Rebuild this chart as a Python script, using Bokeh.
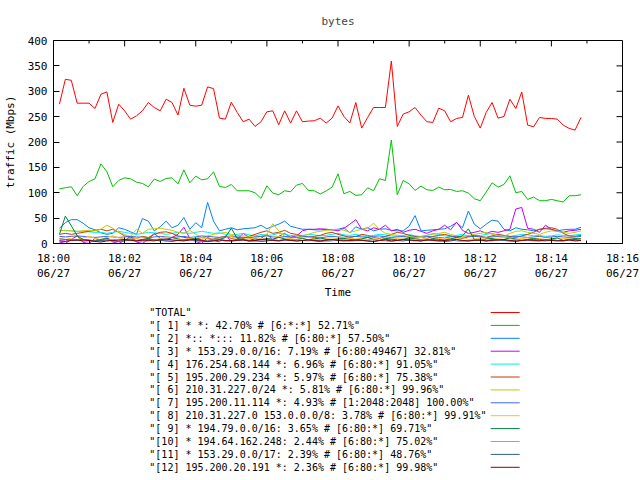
import numpy as np
from bokeh.plotting import figure
from bokeh.models import Range1d, FixedTicker
from bokeh.layouts import column
from bokeh.embed import file_html
from bokeh.resources import INLINE
from bokeh.core.properties import value

# ---------------- data ----------------
sample_seconds = list(range(10, 900, 10))          # one sample every 10 s after 18:00
x_tick_minutes = [0, 2, 4, 6, 8, 10, 12, 14, 16]
x_tick_labels = ["18:00\n06/27", "18:02\n06/27", "18:04\n06/27", "18:06\n06/27",
                 "18:08\n06/27", "18:10\n06/27", "18:12\n06/27", "18:14\n06/27",
                 "18:16\n06/27"]
x_minor_minutes = [1, 3, 5, 7, 9, 11, 13, 15]
y_ticks = [0, 50, 100, 150, 200, 250, 300, 350, 400]

total = [274.5, 323.5, 321.6, 276.5, 276.5, 276.5, 266, 294, 298.7, 238.6,
         274.5, 261.4, 245, 251.6, 261.4, 277.8, 268, 261.4, 284.3, 277.8,
         253, 305.9, 272.5, 270.6, 272.5, 308.5, 305.2, 247, 245, 278.4,
         258.2, 239.9, 245, 230.7, 239.9, 259.5, 261.4, 234, 261.4, 237.3,
         261.4, 239.9, 241.2, 241.8, 247, 237.3, 247, 271.2, 250.3, 237.3,
         277.8, 227.4, 248.4, 268, 268, 268, 359.5, 230.7, 254.9, 259.5,
         268, 252.9, 239.9, 238.6, 266.7, 261.4, 239.9, 246.4, 248.4, 292.2,
         250.3, 227.4, 258.2, 277.8, 247, 250.3, 284.3, 266, 298.7, 233.3,
         230, 248.4, 246.4, 246.4, 245, 233.3, 226.8, 223.5, 248.4]
s1 = [107.8, 109.8, 111.8, 94.1, 112.4, 122.2, 127.5, 156.9, 141.8, 111.8,
      124.2, 129.4, 127.5, 120.9, 118.3, 111.8, 126.8, 122.2, 128.1, 129.4,
      117.6, 145.1, 119.6, 132.7, 125.5, 127.5, 141.2, 112.4, 110.5, 116.3,
      103.9, 103.9, 103.9, 100, 88.9, 113.7, 99.3, 96.1, 103.9, 101.9,
      115, 118.3, 104.6, 103.9, 97.5, 103.6, 111, 137.3, 98, 102.6,
      94.8, 96.1, 109.8, 103.9, 127.5, 124.2, 203.9, 96.1, 124.2, 117.6,
      104.6, 113.1, 105.9, 104.6, 111.1, 105.9, 106.5, 102.6, 103.9, 99.3,
      88.2, 84.3, 101.3, 119.6, 111.1, 116.3, 133.3, 100, 102.6, 86.9,
      91.5, 84.3, 84.3, 86.9, 84.3, 81.7, 94.1, 94.1, 96.1]
s2 = [30, 41, 47, 47, 40, 31, 27, 21, 18, 20,
      31, 28, 23, 18, 49, 44, 25, 33, 44, 31,
      36, 51, 28, 41, 31, 81, 44, 25, 28, 31,
      27, 29, 30, 31, 36, 29, 34, 38, 44, 34,
      31, 28, 28, 27, 27, 28, 27, 28, 31, 21,
      33, 28, 31, 25, 28, 29, 26, 25, 25, 34,
      55, 25, 26, 27, 28, 29, 34, 41, 31, 64,
      38, 29, 38, 46, 44, 28, 25, 31, 28, 27,
      25, 28, 29, 28, 25, 27, 28, 28, 32]
s3 = [3, 0, 8, 15, 2, 0, 10, 5, 12, 3,
      0, 6, 14, 3, 0, 8, 20, 10, 5, 12,
      18, 32, 10, 4, 0, 12, 6, 3, 15, 5,
      8, 20, 12, 5, 10, 18, 8, 14, 20, 12,
      15, 25, 28, 28, 29, 28, 27, 25, 30, 38,
      47, 28, 25, 31, 28, 36, 25, 28, 22, 26,
      28, 24, 20, 25, 28, 36, 27, 42, 26, 20,
      22, 25, 20, 24, 22, 25, 28, 68, 71, 30,
      28, 22, 36, 28, 24, 22, 25, 26, 28]
s4 = [25, 26, 25, 24, 24, 23, 22, 22, 20, 22,
      24, 22, 20, 18, 20, 22, 21, 20, 18, 20,
      22, 21, 20, 22, 24, 22, 20, 21, 18, 16,
      18, 20, 17, 15, 18, 16, 17, 20, 18, 16,
      15, 16, 18, 17, 15, 16, 18, 20, 17, 16,
      18, 15, 14, 16, 18, 17, 15, 14, 16, 18,
      15, 14, 16, 20, 18, 15, 14, 16, 18, 15,
      14, 16, 18, 20, 17, 15, 14, 16, 18, 17,
      15, 16, 14, 15, 17, 16, 15, 17, 18]
s5 = [18, 20, 18, 20, 22, 24, 26, 28, 25, 28,
      22, 15, 12, 10, 14, 12, 18, 22, 23, 20,
      15, 12, 10, 8, 12, 10, 8, 12, 14, 10,
      12, 10, 14, 18, 22, 25, 20, 22, 26, 20,
      18, 15, 12, 14, 16, 20, 22, 18, 15, 12,
      14, 18, 16, 12, 10, 14, 18, 22, 20, 16,
      14, 12, 10, 14, 16, 18, 15, 12, 10, 14,
      16, 14, 12, 15, 18, 16, 14, 12, 15, 18,
      22, 28, 30, 31, 28, 20, 15, 14, 16]
s6 = [26, 25, 25, 24, 25, 26, 25, 28, 36, 30,
      22, 18, 14, 28, 20, 28, 29, 30, 28, 26,
      22, 20, 26, 18, 12, 15, 18, 20, 22, 18,
      16, 15, 14, 12, 14, 18, 39, 25, 14, 10,
      12, 15, 18, 22, 24, 26, 27, 28, 26, 22,
      25, 28, 30, 40, 28, 20, 18, 16, 15, 14,
      12, 14, 16, 18, 20, 22, 18, 15, 14, 16,
      18, 20, 22, 18, 16, 14, 20, 24, 25, 22,
      20, 18, 22, 25, 24, 22, 20, 22, 25]
s7 = [14, 13, 14, 15, 14, 13, 12, 13, 14, 13,
      12, 13, 14, 13, 12, 11, 13, 14, 13, 12,
      13, 14, 12, 13, 15, 14, 13, 12, 13, 14,
      13, 12, 11, 13, 14, 15, 13, 12, 14, 13,
      12, 13, 14, 12, 11, 13, 14, 13, 12, 13,
      14, 13, 12, 14, 15, 13, 12, 13, 14, 12,
      13, 12, 14, 13, 12, 11, 13, 14, 12, 13,
      14, 13, 12, 13, 14, 12, 13, 14, 13, 12,
      13, 14, 12, 13, 14, 13, 12, 13, 14]
s8 = [10, 12, 9, 8, 11, 14, 10, 8, 12, 15,
      11, 9, 8, 10, 12, 9, 7, 10, 13, 11,
      9, 8, 10, 12, 11, 9, 8, 10, 12, 14,
      10, 8, 9, 11, 10, 8, 12, 14, 11, 9,
      8, 10, 12, 9, 8, 10, 11, 9, 12, 10,
      9, 11, 8, 10, 12, 9, 8, 10, 11, 9,
      10, 12, 9, 8, 10, 11, 9, 10, 12, 8,
      9, 10, 11, 8, 10, 12, 9, 8, 10, 11,
      9, 10, 8, 9, 11, 10, 9, 8, 10]
s9 = [18, 54, 35, 15, 8, 6, 5, 8, 10, 6,
      5, 7, 9, 6, 8, 10, 7, 5, 8, 12,
      9, 6, 8, 10, 7, 5, 9, 8, 12, 30,
      10, 8, 6, 9, 7, 10, 8, 12, 9, 6,
      8, 10, 7, 9, 11, 8, 6, 9, 10, 8,
      7, 9, 12, 8, 6, 10, 9, 7, 8, 11,
      9, 8, 6, 10, 8, 7, 9, 12, 15, 29,
      8, 6, 9, 10, 7, 8, 11, 9, 6, 8,
      10, 8, 7, 9, 11, 6, 8, 10, 9]
s10 = [6, 5, 7, 8, 6, 5, 4, 6, 7, 8,
       6, 5, 7, 6, 4, 5, 8, 7, 6, 5,
       7, 8, 6, 5, 4, 6, 7, 9, 6, 5,
       6, 7, 5, 4, 6, 8, 7, 5, 6, 7,
       8, 6, 5, 7, 6, 4, 5, 7, 8, 6,
       5, 6, 7, 8, 6, 5, 4, 6, 7, 6,
       5, 7, 8, 6, 5, 6, 7, 5, 4, 6,
       7, 8, 6, 5, 7, 6, 5, 8, 7, 6,
       5, 6, 7, 8, 6, 5, 7, 6, 7]
s11 = [9, 8, 7, 6, 8, 7, 5, 6, 7, 5,
       4, 6, 7, 5, 6, 8, 7, 6, 5, 4,
       6, 7, 8, 6, 5, 4, 6, 7, 5, 6,
       8, 7, 5, 6, 4, 5, 7, 6, 8, 7,
       5, 6, 7, 5, 4, 6, 8, 7, 6, 5,
       6, 7, 5, 4, 6, 8, 7, 6, 5, 7,
       6, 5, 7, 8, 6, 4, 5, 7, 6, 5,
       7, 6, 5, 8, 7, 6, 5, 4, 6, 7,
       8, 6, 5, 7, 6, 5, 7, 8, 6]
s12 = [5, 4, 6, 7, 5, 6, 4, 3, 5, 6,
       7, 8, 6, 5, 7, 6, 5, 8, 9, 7,
       6, 5, 7, 8, 6, 4, 5, 7, 6, 5,
       6, 7, 5, 6, 8, 7, 6, 5, 7, 6,
       5, 6, 7, 6, 5, 7, 8, 6, 5, 6,
       7, 6, 5, 4, 6, 7, 5, 6, 8, 7,
       6, 5, 7, 6, 5, 6, 7, 8, 6, 5,
       6, 7, 5, 6, 7, 8, 6, 5, 6, 7,
       6, 5, 7, 6, 5, 6, 7, 5, 6]

series_labels = [
    '"TOTAL"',
    '"[ 1] * *: 42.70% # [6:*:*] 52.71%"',
    '"[ 2] *:: *::: 11.82% # [6:80:*] 57.50%"',
    '"[ 3] * 153.29.0.0/16: 7.19% # [6:80:49467] 32.81%"',
    '"[ 4] 176.254.68.144 *: 6.96% # [6:80:*] 91.05%"',
    '"[ 5] 195.200.29.234 *: 5.97% # [6:80:*] 75.38%"',
    '"[ 6] 210.31.227.0/24 *: 5.81% # [6:80:*] 99.96%"',
    '"[ 7] 195.200.11.114 *: 4.93% # [1:2048:2048] 100.00%"',
    '"[ 8] 210.31.227.0 153.0.0.0/8: 3.78% # [6:80:*] 99.91%"',
    '"[ 9] * 194.79.0.0/16: 3.65% # [6:80:*] 69.71%"',
    '"[10] * 194.64.162.248: 2.44% # [6:80:*] 75.02%"',
    '"[11] * 153.29.0.0/17: 2.39% # [6:80:*] 48.76%"',
    '"[12] 195.200.20.191 *: 2.36% # [6:80:*] 99.98%"',
]
series_values = [total, s1, s2, s3, s4, s5, s6, s7, s8, s9, s10, s11, s12]
series_colors = ["#ff0000", "#00c000", "#0080ff", "#c000ff", "#00eeee", "#c04000",
                 "#c8c800", "#4169e1", "#ffc020", "#008040", "#c080ff", "#306080",
                 "#8b0000"]

FONT = "DejaVu Sans Mono"

# ---------------- main plot ----------------
x_minutes = [s / 60.0 for s in sample_seconds]
MAIN_H = 305
FRAME_L, FRAME_R, FRAME_T, FRAME_B_BORDER = 52, 622, 39, 62
X0, X1, Y0, Y1 = 0, 16, 0, 400
MAJ_TICK, MIN_TICK = 6, 3

p = figure(width=640, height=MAIN_H, x_range=Range1d(X0, X1), y_range=Range1d(Y0, Y1),
           output_backend="svg", toolbar_location=None,
           min_border_left=FRAME_L, min_border_right=640 - FRAME_R,
           min_border_top=FRAME_T, min_border_bottom=FRAME_B_BORDER,
           background_fill_color="white", border_fill_color="white")
p.title.text = "bytes"
p.title.align = "center"
p.title.text_font = FONT
p.title.text_font_size = "11px"
p.title.text_font_style = "normal"
p.title.standoff = 25
p.xgrid.visible = False
p.ygrid.visible = False
p.outline_line_color = "black"
p.outline_line_width = 1

xt = FixedTicker(ticks=x_tick_minutes, minor_ticks=x_minor_minutes)
yt = FixedTicker(ticks=y_ticks)
p.xaxis.ticker = xt
p.yaxis.ticker = yt
p.xaxis.major_label_overrides = {t: l for t, l in zip(x_tick_minutes, x_tick_labels)}

for ax in (p.xaxis[0], p.yaxis[0]):
    ax.major_tick_in = MAJ_TICK
    ax.major_tick_out = 0
    ax.minor_tick_in = MIN_TICK
    ax.minor_tick_out = 0
    ax.axis_line_color = "black"
    ax.major_tick_line_color = "black"
    ax.minor_tick_line_color = "black"
    ax.major_label_text_font = FONT
    ax.major_label_text_font_size = "11px"
    ax.major_label_text_color = "black"
    ax.axis_label_text_font = FONT
    ax.axis_label_text_font_size = "11px"
    ax.axis_label_text_font_style = "normal"
    ax.axis_label_text_color = "black"
p.yaxis.minor_tick_in = 0

p.xaxis.axis_label = "Time"
p.yaxis.axis_label = "traffic (Mbps)"
p.xaxis.major_label_standoff = 8
p.xaxis.axis_label_standoff = 3
p.yaxis.major_label_standoff = 6
p.yaxis.axis_label_standoff = 8

# mirrored tick marks on the top and right frame edges (tick length in pixels
# converted to data units of the frame)
frame_w = FRAME_R - FRAME_L
frame_h = MAIN_H - FRAME_T - FRAME_B_BORDER
dy_maj = MAJ_TICK * (Y1 - Y0) / frame_h
dy_min = MIN_TICK * (Y1 - Y0) / frame_h
dx_maj = MAJ_TICK * (X1 - X0) / frame_w
p.segment(x0=x_tick_minutes, x1=x_tick_minutes, y0=[Y1] * len(x_tick_minutes),
          y1=[Y1 - dy_maj] * len(x_tick_minutes), line_color="black", line_width=1)
p.segment(x0=x_minor_minutes, x1=x_minor_minutes, y0=[Y1] * len(x_minor_minutes),
          y1=[Y1 - dy_min] * len(x_minor_minutes), line_color="black", line_width=1)
p.segment(x0=[X1] * len(y_ticks), x1=[X1 - dx_maj] * len(y_ticks), y0=y_ticks,
          y1=y_ticks, line_color="black", line_width=1)

for vals, col in zip(series_values, series_colors):
    p.line(x_minutes, vals, line_color=col, line_width=1)

# ---------------- legend (key below the plot) ----------------
# the column layout aligns this figure's frame with the main frame, so use
# the same borders and make one data unit equal one pixel
LG_H = 480 - MAIN_H
lg = figure(width=640, height=LG_H, x_range=Range1d(FRAME_L, FRAME_R),
            y_range=Range1d(LG_H, 0),
            output_backend="svg", toolbar_location=None, min_border=0,
            min_border_left=FRAME_L, min_border_right=640 - FRAME_R,
            x_axis_type=None, y_axis_type=None,
            background_fill_color="white", border_fill_color="white")
lg.xgrid.visible = False
lg.ygrid.visible = False
lg.outline_line_color = None

row0, row_h = 312 - MAIN_H, 12.9
text_x, key_x0, key_x1 = 148, 490, 519
rows_y = [row0 + k * row_h for k in range(len(series_labels))]
lg.text(x=[text_x] * len(series_labels), y=rows_y, text=series_labels,
        text_font=value(FONT), text_font_size="10px", text_baseline="middle",
        text_align="left", text_color="black")
lg.segment(x0=[key_x0] * len(rows_y), x1=[key_x1] * len(rows_y), y0=rows_y, y1=rows_y,
           line_color=series_colors, line_width=1)

layout = column(p, lg, spacing=0)
open("out.html", "w").write(file_html(layout, INLINE))
